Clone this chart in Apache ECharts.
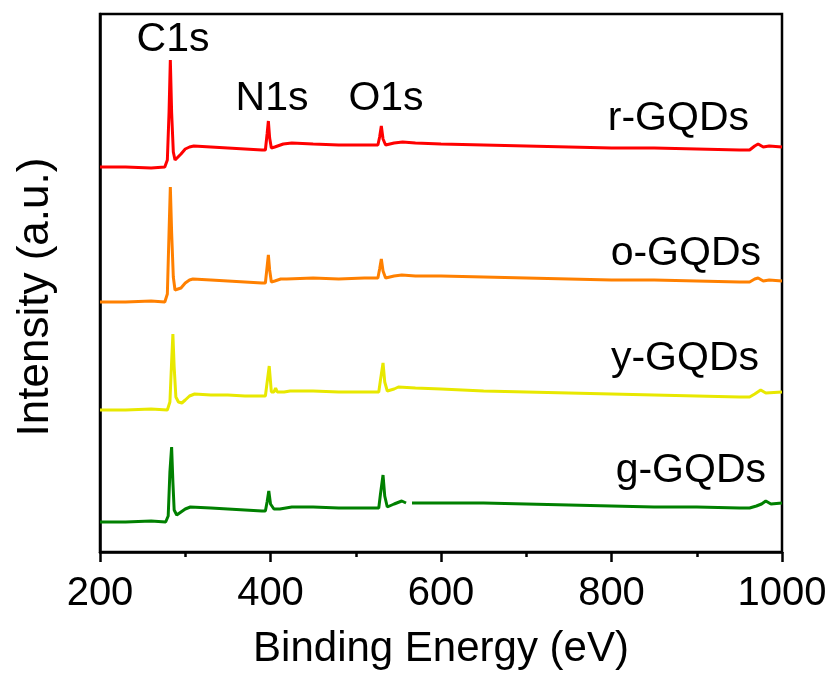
<!DOCTYPE html>
<html>
<head>
<meta charset="utf-8">
<script src="https://cdn.jsdelivr.net/npm/echarts@6/dist/echarts.min.js"></script>
<style>
html,body{margin:0;padding:0;background:#fff;}
#chart{width:834px;height:675px;}
</style>
</head>
<body>
<div id="chart"></div>
<script>
// Binding energy (eV) and intensity (a.u., stacked offsets included)
var eR = [200,230,260,276,279,281,282.5,284,286,288,290,295,300,305,310,330,350,370,390,394,396,397.5,399,401,405,415,425,450,480,510,526,528,530,532,535,545,555,570,600,650,700,750,800,850,900,950,962,968,972,978,985,1000];
var iR = [385,385,384,385,392,440,492,440,400,392,394,398,403,405,406,405,404,403,402,402,418,431,414,404,405,408,409,408,407,407,407,415,426,413,407,409,410,409,408,407,406,405,404,404,403,402,402,406,408,405,406,405];

var eO = [200,230,260,276,279,281,282.5,284,286,288,290,295,300,305,309,330,350,370,390,394,396,397.5,399,401,405,412,419,450,480,510,526,528,530,532,535,545,554,570,600,650,700,750,800,850,900,950,962,968,972,978,985,1000];
var iO = [250,250,251,250,258,320,365,320,275,262,260,264,269,272,273,272,271,270,269,269,285,297,282,270,271,273,273,274,273,274,274,283,293,281,274,276,277,276,276,275,274,273,272,272,271,270,270,273,274,271,272,271];

var eY = [200,230,260,279,282,284,285.5,287,289,292,296,300,305,311,330,350,370,390,394,396,398.5,401,404,406,408,410,416,423,450,480,510,527,529,532,534,537,545,550,570,600,650,700,750,800,850,900,950,962,968,975,981,1000];
var iY = [142,142,143,142,150,190,218,185,155,150,149,152,156,158,157,157,156,156,156,158,186,160,160,164,160,158,160,161,161,160,160,160,172,189,170,161,163,165,164,163,161,160,159,158,157,156,155,155,158,162,159,160];

var eG = [200,230,260,277,280,282,284,285.5,287,290,295,300,306,330,350,370,390,394,396,398,400,404,411,425,450,480,510,527,529,532,534,537,545,554,559,562,566,600,650,700,750,800,850,900,950,962,970,976,981,987,1000];
var iG = [30,30,31,30,36,80,105,70,42,37,40,43,45,44,43,42,41,41,50,61,48,43,43,45,45,44,44,44,58,77,56,45,48,51,49,null,49,49,49,48,47,46,45,45,44,44,46,48,51,48,49];

var seriesNames = ['r-GQDs','o-GQDs','y-GQDs','g-GQDs'];
var seriesColors = ['#ff0000','#ff8000','#e8e800','#008000'];
var xTicks = [200,400,600,800,1000];

function pairs(e, v){ return e.map(function(x,i){ return [x, v[i]]; }); }
var allData = [pairs(eR,iR), pairs(eO,iO), pairs(eY,iY), pairs(eG,iG)];

var FONT = 'Liberation Sans, Arial, sans-serif';
var chart = echarts.init(document.getElementById('chart'), null, {renderer:'canvas'});

var series = allData.map(function(d,i){
  return {
    name: seriesNames[i], type:'line', data:d, showSymbol:false, symbol:'none',
    lineStyle:{color:seriesColors[i], width:3}, itemStyle:{color:seriesColors[i]},
    connectNulls:false, animation:false, z:2
  };
});

function txt(s, x, y, align){
  return {type:'text', x:x, y:y, z:10, style:{text:s, fill:'#000', font:'41px ' + FONT, textAlign:align, textVerticalAlign:'middle'}};
}

chart.setOption({
  animation:false,
  backgroundColor:'#fff',
  grid:{left:100, right:52, top:14, bottom:123, show:true, borderColor:'#000', borderWidth:2.5, backgroundColor:'transparent'},
  xAxis:{
    type:'value', min:xTicks[0], max:xTicks[xTicks.length-1], interval:200,
    name:'Binding Energy (eV)', nameLocation:'middle', nameGap:76,
    nameTextStyle:{fontFamily:FONT, fontSize:42, color:'#000'},
    axisLine:{show:true, onZero:false, lineStyle:{color:'#000', width:2.5}},
    axisTick:{show:true, inside:false, length:10, lineStyle:{color:'#000', width:2.5}},
    minorTick:{show:true, splitNumber:2, length:5, lineStyle:{color:'#000', width:2.5}},
    splitLine:{show:false},
    axisLabel:{fontFamily:FONT, fontSize:40, color:'#000', margin:22, formatter:function(v){ return String(v); }}
  },
  yAxis:{
    type:'value', min:0, max:538,
    name:'Intensity (a.u.)', nameLocation:'middle', nameGap:42, nameRotate:90,
    nameTextStyle:{fontFamily:FONT, fontSize:44, color:'#000', padding:[0,0,0,-28]},
    axisLine:{show:true, lineStyle:{color:'#000', width:2.5}},
    axisTick:{show:false}, axisLabel:{show:false}, splitLine:{show:false}
  },
  series: series,
  graphic: [
    txt('C1s', 173, 40, 'center'),
    txt('N1s', 272, 99, 'center'),
    txt('O1s', 386, 99, 'center'),
    txt(seriesNames[0], 749, 119, 'right'),
    txt(seriesNames[1], 761, 254, 'right'),
    txt(seriesNames[2], 759, 359, 'right'),
    txt(seriesNames[3], 766, 471, 'right')
  ]
});
</script>
</body>
</html>
